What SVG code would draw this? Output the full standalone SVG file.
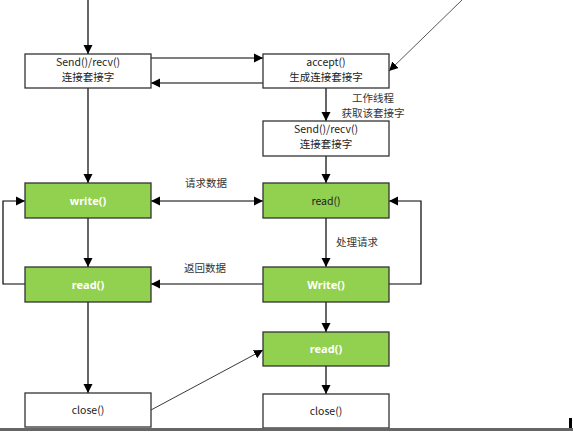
<svg xmlns="http://www.w3.org/2000/svg" width="573" height="432" viewBox="0 0 573 432">
<defs>
<marker id="ah" markerWidth="10" markerHeight="10" refX="9" refY="5" orient="auto-start-reverse" markerUnits="userSpaceOnUse">
<path d="M0,0.5 L9,5 L0,9.5 Z" fill="#000"/>
</marker>
<style>
.box{fill:#fff;stroke:#333;stroke-width:1.3}
.g{fill:#92D050;stroke:#333;stroke-width:1.3}
.t{font-family:"Noto Sans CJK SC","Noto Sans",sans-serif;font-size:10.5px;fill:#222;text-anchor:middle}
.w{font-family:"Noto Sans","Noto Sans CJK SC",sans-serif;font-size:11px;fill:#fff;font-weight:bold;text-anchor:middle}
.c{fill:none;stroke:#000;stroke-width:1.2}
.lbl{font-family:"Noto Sans CJK SC","Noto Sans",sans-serif;font-size:10.5px;fill:#333;text-anchor:middle}
</style>
</defs>
<rect width="573" height="432" fill="#fff"/>
<g id="connectors">
<path class="c" d="M88,0 V54" marker-end="url(#ah)"/>
<path class="c" d="M151,58 H263" marker-end="url(#ah)"/>
<path class="c" d="M263,83 H151" marker-end="url(#ah)"/>
<path d="M462,0 L389,71" fill="none" stroke="#444" stroke-width="0.9" marker-end="url(#ah)"/>
<path class="c" d="M326,88 V121" marker-end="url(#ah)"/>
<path class="c" d="M326,156 V183" marker-end="url(#ah)"/>
<path class="c" d="M88,88 V183" marker-end="url(#ah)"/>
<path class="c" d="M151,201 H263" marker-start="url(#ah)" marker-end="url(#ah)"/>
<path class="c" d="M88,218 V267" marker-end="url(#ah)"/>
<path class="c" d="M25,284 H3 V201 H25" marker-end="url(#ah)"/>
<path class="c" d="M263,284 H151" marker-end="url(#ah)"/>
<path class="c" d="M326,218 V267" marker-end="url(#ah)"/>
<path class="c" d="M389,284 H421 V201 H389" marker-end="url(#ah)"/>
<path class="c" d="M326,302 V332" marker-end="url(#ah)"/>
<path class="c" d="M326,366 V394" marker-end="url(#ah)"/>
<path class="c" d="M88,302 V393" marker-end="url(#ah)"/>
<path d="M151,410 L263,350" fill="none" stroke="#222" stroke-width="0.9" marker-end="url(#ah)"/>
<text class="lbl" x="373" y="102">工作线程</text>
<text class="lbl" x="373" y="117">获取该套接字</text>
<text class="lbl" x="206" y="187">请求数据</text>
<text class="lbl" x="357" y="246">处理请求</text>
<text class="lbl" x="205" y="272">返回数据</text>
</g>
<g id="client-send">
<rect class="box" x="25" y="54" width="126" height="34"/>
<text class="t" x="88" y="66">Send()/recv()</text>
<text class="t" x="88" y="81">连接套接字</text>
</g>
<g id="accept">
<rect class="box" x="263" y="54" width="126" height="34"/>
<text class="t" x="326" y="66">accept()</text>
<text class="t" x="326" y="81">生成连接套接字</text>
</g>
<g id="server-send">
<rect class="box" x="263" y="121" width="126" height="35"/>
<text class="t" x="326" y="133">Send()/recv()</text>
<text class="t" x="326" y="148">连接套接字</text>
</g>
<g id="client-write">
<rect class="g" x="25" y="183" width="126" height="35"/>
<text class="w" x="88" y="205">write()</text>
</g>
<g id="server-read">
<rect class="g" x="263" y="183" width="126" height="35"/>
<text class="t" x="326" y="205">read()</text>
</g>
<g id="client-read">
<rect class="g" x="25" y="267" width="126" height="35"/>
<text class="w" x="88" y="289">read()</text>
</g>
<g id="server-write">
<rect class="g" x="263" y="267" width="126" height="35"/>
<text class="w" x="326" y="289">Write()</text>
</g>
<g id="server-read2">
<rect class="g" x="263" y="332" width="126" height="34"/>
<text class="w" x="326" y="353">read()</text>
</g>
<g id="client-close">
<rect class="box" x="25" y="393" width="126" height="34"/>
<text class="t" x="88" y="414">close()</text>
</g>
<g id="server-close">
<rect class="box" x="263" y="394" width="126" height="34"/>
<text class="t" x="326" y="415">close()</text>
</g>
<rect x="0" y="428" width="573" height="3" fill="#666"/>
<rect x="569" y="418" width="3" height="10" fill="#000"/>
</svg>
